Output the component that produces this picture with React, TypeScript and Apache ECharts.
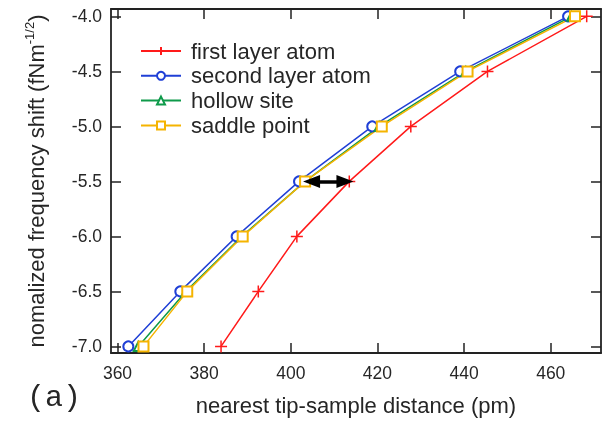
import React, { useEffect, useRef } from "react";
import * as echarts from "echarts";

const yLevels = [-7.0, -6.5, -6.0, -5.5, -5.0, -4.5, -4.0];
const firstLayerX = [383.9, 392.5, 401.4, 413.5, 427.7, 445.4, 468.3];
const secondLayerX = [362.5, 374.5, 387.5, 401.9, 418.8, 439.1, 464.0];
const hollowX = [364.8, 375.8, 388.7, 403.3, 420.4, 440.4, 464.8];
const saddleX = [366.0, 376.1, 388.9, 403.3, 421.0, 440.8, 465.6];
const xTicks = [360, 380, 400, 420, 440, 460];
const yTicks = [-7.0, -6.5, -6.0, -5.5, -5.0, -4.5, -4.0];
const arrowFrom = [404.8, -5.5];
const arrowTo = [412.5, -5.5];

const FONT = "'Liberation Sans', Arial, Helvetica, sans-serif";
const TXT = "#262626";
const AX = "#222";

const pairs = (xs: number[]) => xs.map((x, i) => [x, yLevels[i]]);

export default function App() {
  const ref = useRef<HTMLDivElement>(null);
  useEffect(() => {
    if (!ref.current) return;
    const chart = echarts.init(ref.current, undefined, { renderer: "svg" });
    const axisLine = { show: true, lineStyle: { color: AX, width: 1.8 } };
    const tick = (vals: number[]) => ({
      show: true,
      inside: true,
      length: 10,
      customValues: vals,
      lineStyle: { color: AX, width: 1.5 },
    });
    const mk = (name: string, xs: number[], color: string, symbol: string, size: number, extra: any = {}) => ({
      name,
      type: "line",
      data: pairs(xs),
      symbol,
      symbolSize: size,
      showSymbol: true,
      lineStyle: { color, width: 1.5 },
      itemStyle: { color, borderColor: color, borderWidth: 1.1 },
      emphasis: { disabled: true },
      z: 3,
      ...extra,
    });
    chart.setOption({
      animation: false,
      textStyle: { fontFamily: FONT },
      grid: { left: 111, right: 4, top: 9, bottom: 69, containLabel: false },
      legend: {
        show: true,
        orient: "vertical",
        left: 135,
        top: 35,
        itemWidth: 40,
        itemHeight: 10,
        itemGap: 2.8,
        textStyle: { fontSize: 22, color: TXT, fontFamily: FONT, padding: [0, 0, 0, 5] },
        data: ["first layer atom", "second layer atom", "hollow site", "saddle point"],
      },
      xAxis: [
        {
          type: "value",
          min: 358.5,
          max: 471.6,
          position: "bottom",
          axisLine,
          axisTick: tick(xTicks),
          splitLine: { show: false },
          axisLabel: {
            customValues: xTicks,
            fontSize: 17.5,
            color: TXT,
            margin: 11,
            fontFamily: FONT,
          },
          name: "nearest tip-sample distance (pm)",
          nameLocation: "middle",
          nameGap: 41,
          nameTextStyle: { fontSize: 22, color: TXT, fontFamily: FONT },
        },
        {
          type: "value",
          min: 358.5,
          max: 471.6,
          position: "top",
          axisLine,
          axisTick: tick(xTicks),
          splitLine: { show: false },
          axisLabel: { show: false, customValues: xTicks },
        },
      ],
      yAxis: [
        {
          type: "value",
          min: -7.06,
          max: -3.933,
          position: "left",
          axisLine,
          axisTick: tick(yTicks),
          splitLine: { show: false },
          axisLabel: {
            customValues: yTicks,
            formatter: (v: number) => v.toFixed(1),
            fontSize: 17.5,
            color: TXT,
            margin: 9,
            fontFamily: FONT,
          },
          name: "{a|nomalized frequency shift (fNm}{s|-1/2}{a|)}",
          nameLocation: "middle",
          nameRotate: 90,
          nameGap: 62,
          nameTextStyle: {
            rich: {
              a: { fontSize: 22, color: TXT, fontFamily: FONT, lineHeight: 26 },
              s: { fontSize: 13, color: TXT, fontFamily: FONT, verticalAlign: "top", lineHeight: 26 },
            },
          },
        },
        {
          type: "value",
          min: -7.06,
          max: -3.933,
          position: "right",
          axisLine,
          axisTick: tick(yTicks),
          splitLine: { show: false },
          axisLabel: { show: false, customValues: yTicks },
        },
      ],
      series: [
        mk("first layer atom", firstLayerX, "#ff1a1a", "path://M5,0L5,10M0,5L10,5", 12, {
          itemStyle: { color: "#ff1a1a", borderColor: "#ff1a1a", borderWidth: 1.5 },
          markLine: {
            silent: true,
            symbol: ["triangle", "triangle"],
            symbolSize: [13, 17],
            label: { show: false },
            lineStyle: { color: "#000", width: 3.5, type: "solid" },
            data: [[{ coord: arrowFrom }, { coord: arrowTo }]],
          },
        }),
        mk("second layer atom", secondLayerX, "#1f3fd6", "emptyCircle", 10),
        mk("hollow site", hollowX, "#0e9a4a", "emptyTriangle", 9),
        mk("saddle point", saddleX, "#f5b400", "emptyRect", 10),
      ],
      graphic: [
        {
          type: "text",
          left: 27,
          top: 383,
          style: { text: "(a)", fontSize: 30, fill: TXT, fontFamily: "'Liberation Mono', 'DejaVu Sans Mono', monospace" },
        },
      ],
    });
    return () => chart.dispose();
  }, []);
  return <div ref={ref} style={{ position: "fixed", left: 0, top: 0, width: 605, height: 422 }} />;
}
